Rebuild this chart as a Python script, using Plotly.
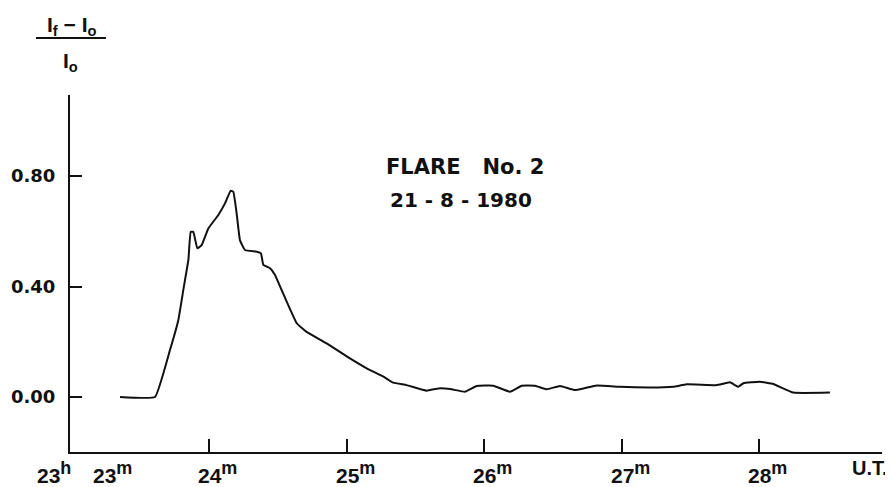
import plotly.graph_objects as go

# Time in minutes after 23h (U.T.)
time_min = [23.353, 23.607, 23.716, 23.777, 23.813, 23.850, 23.867, 23.886, 23.915, 23.947,
            23.995, 24.068, 24.116, 24.158, 24.177, 24.201, 24.225, 24.262, 24.347, 24.378,
            24.395, 24.444, 24.480, 24.565, 24.638, 24.710, 24.856, 25.025, 25.147, 25.268,
            25.340, 25.438, 25.583, 25.668, 25.753, 25.862, 25.947, 26.068, 26.189, 26.274,
            26.371, 26.456, 26.553, 26.662, 26.820, 26.989, 27.207, 27.377, 27.474, 27.692,
            27.789, 27.849, 27.886, 28.007, 28.104, 28.249, 28.516]
# (If - Io) / Io
rel_intensity = [0.000, 0.000, 0.170, 0.279, 0.387, 0.496, 0.598, 0.598, 0.538, 0.550,
                 0.610, 0.659, 0.701, 0.747, 0.743, 0.665, 0.568, 0.532, 0.526, 0.520,
                 0.478, 0.466, 0.442, 0.345, 0.267, 0.236, 0.194, 0.140, 0.104, 0.074,
                 0.052, 0.043, 0.023, 0.031, 0.029, 0.019, 0.040, 0.041, 0.019, 0.041,
                 0.041, 0.028, 0.040, 0.025, 0.042, 0.037, 0.034, 0.037, 0.046, 0.043,
                 0.053, 0.037, 0.050, 0.055, 0.047, 0.016, 0.016]

y_ticks = [0.0, 0.4, 0.8]
y_tick_labels = ["0.00", "0.40", "0.80"]
x_ticks = [24, 25, 26, 27, 28]
x_tick_labels = ["24", "25", "26", "27", "28"]

# The page body has an 8px default margin; size the figure so the plot
# area lands where it is in the 893x487 window.
OFF = 8
W, H = 893 - OFF, 487 - OFF
PAGE_L, PAGE_R, PAGE_T, PAGE_B = 70, 882, 95, 452   # plot area in window pixels
ML, MT = PAGE_L - OFF, PAGE_T - OFF
MR, MB = (OFF + W) - PAGE_R, (OFF + H) - PAGE_B
PW, PH = PAGE_R - PAGE_L, PAGE_B - PAGE_T

FONT = "Liberation Sans, Arial, sans-serif"
WIDE = "DejaVu Sans, sans-serif"
BLACK = "#111111"
SUP = '<sup><span style="font-size:18px">{}</span></sup>'

def px_x(px):
    return (px - PAGE_L) / PW

def px_y(py):
    return (PAGE_B - py) / PH

fig = go.Figure()
fig.add_trace(go.Scatter(
    x=time_min, y=rel_intensity, mode="lines",
    line=dict(color=BLACK, width=2, shape="spline", smoothing=0.3),
    hoverinfo="skip", showlegend=False,
))

annotations = []
# x-axis labels
for v, lab in zip(x_ticks, x_tick_labels):
    annotations.append(dict(
        x=v, y=0, xref="x", yref="paper", text=f"<b>{lab}{SUP.format('m')}</b>",
        showarrow=False, xanchor="left", yanchor="top", xshift=-13, yshift=-4,
        font=dict(family=FONT, size=21, color=BLACK),
    ))
annotations.append(dict(
    x=px_x(35), y=0, xref="paper", yref="paper", text=f"<b>23{SUP.format('h')}</b>",
    showarrow=False, xanchor="left", yanchor="top", yshift=-4,
    font=dict(family=FONT, size=21, color=BLACK),
))
annotations.append(dict(
    x=px_x(91), y=0, xref="paper", yref="paper", text=f"<b>23{SUP.format('m')}</b>",
    showarrow=False, xanchor="left", yanchor="top", yshift=-4,
    font=dict(family=FONT, size=21, color=BLACK),
))
annotations.append(dict(
    x=px_x(890), y=0, xref="paper", yref="paper", text="<b>U.T.</b>",
    showarrow=False, xanchor="right", yanchor="top", yshift=-3,
    font=dict(family=FONT, size=20, color=BLACK),
))
# y-axis label (fraction)
annotations.append(dict(
    x=px_x(72), y=px_y(26), xref="paper", yref="paper",
    text="<b>I<sub>f</sub> − I<sub>o</sub></b>",
    showarrow=False, xanchor="center", yanchor="middle",
    font=dict(family=FONT, size=21, color=BLACK),
))
annotations.append(dict(
    x=px_x(70), y=px_y(62), xref="paper", yref="paper",
    text="<b>I<sub>o</sub></b>",
    showarrow=False, xanchor="center", yanchor="middle",
    font=dict(family=FONT, size=21, color=BLACK),
))
# Title texts
annotations.append(dict(
    x=px_x(465), y=px_y(167), xref="paper", yref="paper",
    text="<b>FLARE   No. 2</b>", showarrow=False, xanchor="center", yanchor="middle",
    font=dict(family=WIDE, size=21, color=BLACK),
))
annotations.append(dict(
    x=px_x(461), y=px_y(200), xref="paper", yref="paper",
    text="<b>21 - 8 - 1980</b>", showarrow=False, xanchor="center", yanchor="middle",
    font=dict(family=WIDE, size=20, color=BLACK),
))

fig.update_layout(
    width=W, height=H,
    margin=dict(l=ML, r=MR, t=MT, b=MB, autoexpand=False),
    paper_bgcolor="white", plot_bgcolor="white",
    annotations=annotations,
    shapes=[dict(type="line", xref="paper", yref="paper",
                 x0=px_x(36), x1=px_x(106), y0=px_y(38), y1=px_y(38),
                 line=dict(color=BLACK, width=2))],
    xaxis=dict(
        range=[23 - 1.5 / 137.5, 23 - 1.5 / 137.5 + PW / 137.5],
        showgrid=False, zeroline=False, showline=True, linecolor=BLACK, linewidth=2,
        tickvals=x_ticks, ticktext=["" for _ in x_ticks],
        ticks="inside", ticklen=13, tickwidth=2, tickcolor=BLACK,
        fixedrange=True,
    ),
    yaxis=dict(
        range=[-55 / 276.25, 302 / 276.25],
        showgrid=False, zeroline=False, showline=True, linecolor=BLACK, linewidth=2,
        tickvals=y_ticks, ticktext=[f"<b>{t}</b>" for t in y_tick_labels],
        ticks="inside", ticklen=12, tickwidth=2, tickcolor=BLACK,
        tickfont=dict(family=WIDE, size=18, color=BLACK),
        ticklabelstandoff=9,
        fixedrange=True,
    ),
)

fig.write_html("out.html")
